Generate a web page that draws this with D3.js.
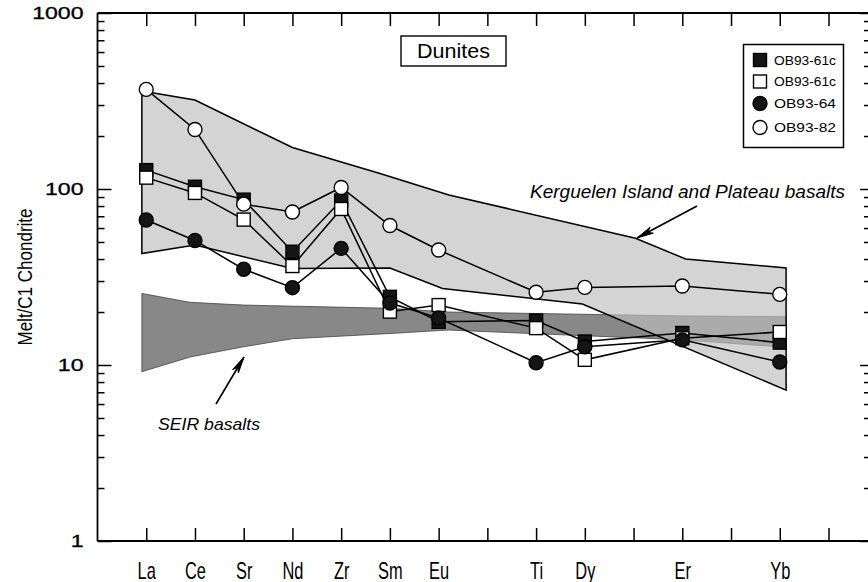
<!DOCTYPE html>
<html><head><meta charset="utf-8">
<script src="https://cdn.jsdelivr.net/npm/d3@7"></script>
<style>body{margin:0;background:#fff}svg{display:block}text{font-family:"Liberation Sans",Arial,Helvetica,sans-serif}</style>
</head><body><svg id="c" width="868" height="582"></svg>
<script>
const categories = ["La","Ce","Sr","Nd","Zr","Sm","Eu","","Ti","Dy","","Er","","Yb",""];
const seriesNames = ["OB93-61c","OB93-61c","OB93-64","OB93-82"];
const ob9361cFilled = [128,103,87,44,86,24.4,17.6,null,17.9,13.6,null,15.2,null,13.4,null];
const ob9361cOpen   = [116,95,67,36.5,77,20.1,21.9,null,16.2,10.7,null,14.2,null,15.4,null];
const ob9364        = [66.7,51,35,27.5,46,22.5,18.5,null,10.3,12.7,null,13.9,null,10.4,null];
const ob9382        = [368,218,82,74,102,62,45,null,25.9,27.6,null,28.1,null,25.2,null];
const kergUpperX = [-0.09,1,3,4.78,6.21,10.04,11.07,13.13];
const kergUpperY = [360,320,172,123,92.5,52.5,40,35.6];
const kergLowerX = [-0.09,1,3,5,6.08,8.95,13.13];
const kergLowerY = [43,48,35.4,35.6,27.2,22.2,7.2];
const seirUpperX = [-0.09,0.9,2,5,6.2,11,13.13];
const seirUpperY = [25.5,22.7,21.9,21,20,19,18.8];
const seirLowerX = [-0.09,0.9,2,3,5,6.2,11,13.13];
const seirLowerY = [9.16,11.1,12.7,14.1,15.1,15.8,13.9,12.6];
const yTickLabels = [1,10,100,1000];

const svg = d3.select("#c");
const L = 97.5, R = 868, T = 13, B = 541;
const x = d3.scaleLinear().domain([-1, 14]).range([L, 828.5]);
const y = d3.scaleLog().domain([1, 1000]).range([B, T]);

// regions
function poly(ux, uy, lx, ly) {
  const pts = ux.map((v,i)=>[x(v), y(uy[i])]);
  for (let i = lx.length-1; i >= 0; i--) pts.push([x(lx[i]), y(ly[i])]);
  return "M" + pts.map(p=>p.join(",")).join("L") + "Z";
}
svg.append("path").attr("d", poly(seirUpperX, seirUpperY, seirLowerX, seirLowerY))
  .attr("fill", "#888").attr("stroke", "#444").attr("stroke-width", 0.8);
svg.append("path").attr("d", poly(kergUpperX, kergUpperY, kergLowerX, kergLowerY))
  .attr("fill", "#bdbdbd").attr("fill-opacity", 0.66).attr("stroke", "#000").attr("stroke-width", 1.5);

// bottom / top axes
const bottomAxis = d3.axisBottom(x).tickValues(d3.range(0, 15)).tickFormat(i => categories[i]).tickSizeInner(-13).tickSizeOuter(0);
const gb = svg.append("g").attr("transform", `translate(0,${B})`).call(bottomAxis);
const topAxis = d3.axisTop(x).tickValues(d3.range(0, 15)).tickFormat("").tickSizeInner(-13).tickSizeOuter(0);
const gt = svg.append("g").attr("transform", `translate(0,${T})`).call(topAxis);
gb.selectAll(".tick text").attr("y", 0).attr("dy", "0.36em").attr("font-size", 20).attr("fill", "#000")
  .attr("font-family", "'Liberation Sans',Arial,sans-serif")
  .attr("transform", "translate(0,29) scale(0.82,1.18)");

// left / right axes (major and minor ticks)
const allTicks = y.ticks();
const minorTicks = allTicks.filter(d => !yTickLabels.includes(d));
const glMinor = svg.append("g").attr("transform", `translate(${L},0)`)
  .call(d3.axisLeft(y).tickValues(minorTicks).tickFormat("").tickSizeInner(-7).tickSizeOuter(0));
const gl = svg.append("g").attr("transform", `translate(${L},0)`)
  .call(d3.axisLeft(y).tickValues(yTickLabels).tickFormat(d3.format("d")).tickSizeInner(-14).tickSizeOuter(0).tickPadding(10));
const grMinor = svg.append("g").attr("transform", `translate(${R},0)`)
  .call(d3.axisRight(y).tickValues(minorTicks).tickFormat("").tickSizeInner(-4).tickSizeOuter(0));
const gr = svg.append("g").attr("transform", `translate(${R},0)`)
  .call(d3.axisRight(y).tickValues(yTickLabels).tickFormat("").tickSizeInner(-8).tickSizeOuter(0));
[gb, gt, glMinor, gl, grMinor, gr].forEach(g => {
  g.select(".domain").remove();
  g.selectAll(".tick line").attr("stroke", "#000").attr("stroke-width", 1.5);
});
gl.selectAll(".tick text").attr("x", -10).attr("font-size", 16.5).attr("fill", "#000").attr("stroke", "#000").attr("stroke-width", 0.3)
  .attr("font-family", "'Liberation Sans',Arial,sans-serif").attr("transform", "scale(1.4,1)");

// frame
const fr = svg.append("g").attr("stroke", "#000").attr("stroke-width", 1.8);
fr.append("line").attr("x1", L).attr("x2", 868).attr("y1", T).attr("y2", T);
fr.append("line").attr("x1", L).attr("x2", 868).attr("y1", B).attr("y2", B);
fr.append("line").attr("x1", L).attr("x2", L).attr("y1", T).attr("y2", B);

// y label
svg.append("text").attr("transform", `translate(32,277) rotate(-90)`).attr("text-anchor", "middle")
  .attr("font-size", 20.5).attr("textLength", 137).attr("lengthAdjust", "spacingAndGlyphs").text("Melt/C1 Chondrite");

// series
const series = [
  {name: seriesNames[0], vals: ob9361cFilled, shape: "square", fill: "#151515"},
  {name: seriesNames[1], vals: ob9361cOpen, shape: "square", fill: "#fff"},
  {name: seriesNames[2], vals: ob9364, shape: "circle", fill: "#151515"},
  {name: seriesNames[3], vals: ob9382, shape: "circle", fill: "#fff"}
];
const line = d3.line().x(d => x(d.i)).y(d => y(d.v));
series.forEach(s => {
  const pts = s.vals.map((v,i)=>({i, v})).filter(d => d.v != null);
  svg.append("path").attr("d", line(pts)).attr("fill", "none").attr("stroke", "#000").attr("stroke-width", 1.5);
});
function marker(g, shape, fill, cx, cy) {
  if (shape === "square") g.append("rect").attr("x", cx-6.5).attr("y", cy-6.5).attr("width", 13).attr("height", 13)
    .attr("fill", fill).attr("stroke", "#000").attr("stroke-width", 1.4);
  else g.append("circle").attr("cx", cx).attr("cy", cy).attr("r", 7).attr("fill", fill).attr("stroke", "#000").attr("stroke-width", 1.4);
}
series.forEach(s => {
  const g = svg.append("g");
  s.vals.forEach((v,i) => { if (v != null) marker(g, s.shape, s.fill, x(i), y(v)); });
});

// title box
svg.append("rect").attr("x", 401).attr("y", 36).attr("width", 105).attr("height", 30).attr("fill", "#fff").attr("stroke", "#000").attr("stroke-width", 1.4);
svg.append("text").attr("x", 453.5).attr("y", 58).attr("text-anchor", "middle").attr("font-size", 20)
  .attr("textLength", 73).attr("lengthAdjust", "spacingAndGlyphs").text("Dunites");

// legend
const lg = svg.append("g");
lg.append("rect").attr("x", 743.5).attr("y", 44.5).attr("width", 100).attr("height", 103).attr("fill", "#fff").attr("stroke", "#000").attr("stroke-width", 1.5);
const legY = [60, 81.5, 103.5, 127.5];
series.forEach((s, k) => {
  marker(lg, s.shape, s.fill, 760, legY[k]);
  lg.append("text").attr("x", 774).attr("y", legY[k] + 4.5).attr("font-size", 13)
    .attr("textLength", 62).attr("lengthAdjust", "spacingAndGlyphs").text(s.name);
});

// annotations
svg.append("text").attr("x", 530).attr("y", 198).attr("font-size", 18).attr("font-style", "italic")
  .attr("textLength", 315).attr("lengthAdjust", "spacingAndGlyphs").text("Kerguelen Island and Plateau basalts");
svg.append("text").attr("x", 158).attr("y", 430).attr("font-size", 17).attr("font-style", "italic")
  .attr("textLength", 102).attr("lengthAdjust", "spacingAndGlyphs").text("SEIR basalts");
function arrow(x1, y1, x2, y2) {
  svg.append("line").attr("x1", x1).attr("y1", y1).attr("x2", x2).attr("y2", y2).attr("stroke", "#000").attr("stroke-width", 1.6);
  const a = Math.atan2(y2-y1, x2-x1), len = 17, w = 0.2;
  const p1 = [x2 - len*Math.cos(a-w), y2 - len*Math.sin(a-w)];
  const p2 = [x2 - len*Math.cos(a+w), y2 - len*Math.sin(a+w)];
  const pm = [x2 - len*0.7*Math.cos(a), y2 - len*0.7*Math.sin(a)];
  svg.append("path").attr("d", `M${x2},${y2}L${p1}L${pm}L${p2}Z`).attr("fill", "#000").attr("stroke", "#000").attr("stroke-width", 1);
}
arrow(697, 206, 637, 238);
arrow(216, 404, 244, 357);
</script></body></html>
